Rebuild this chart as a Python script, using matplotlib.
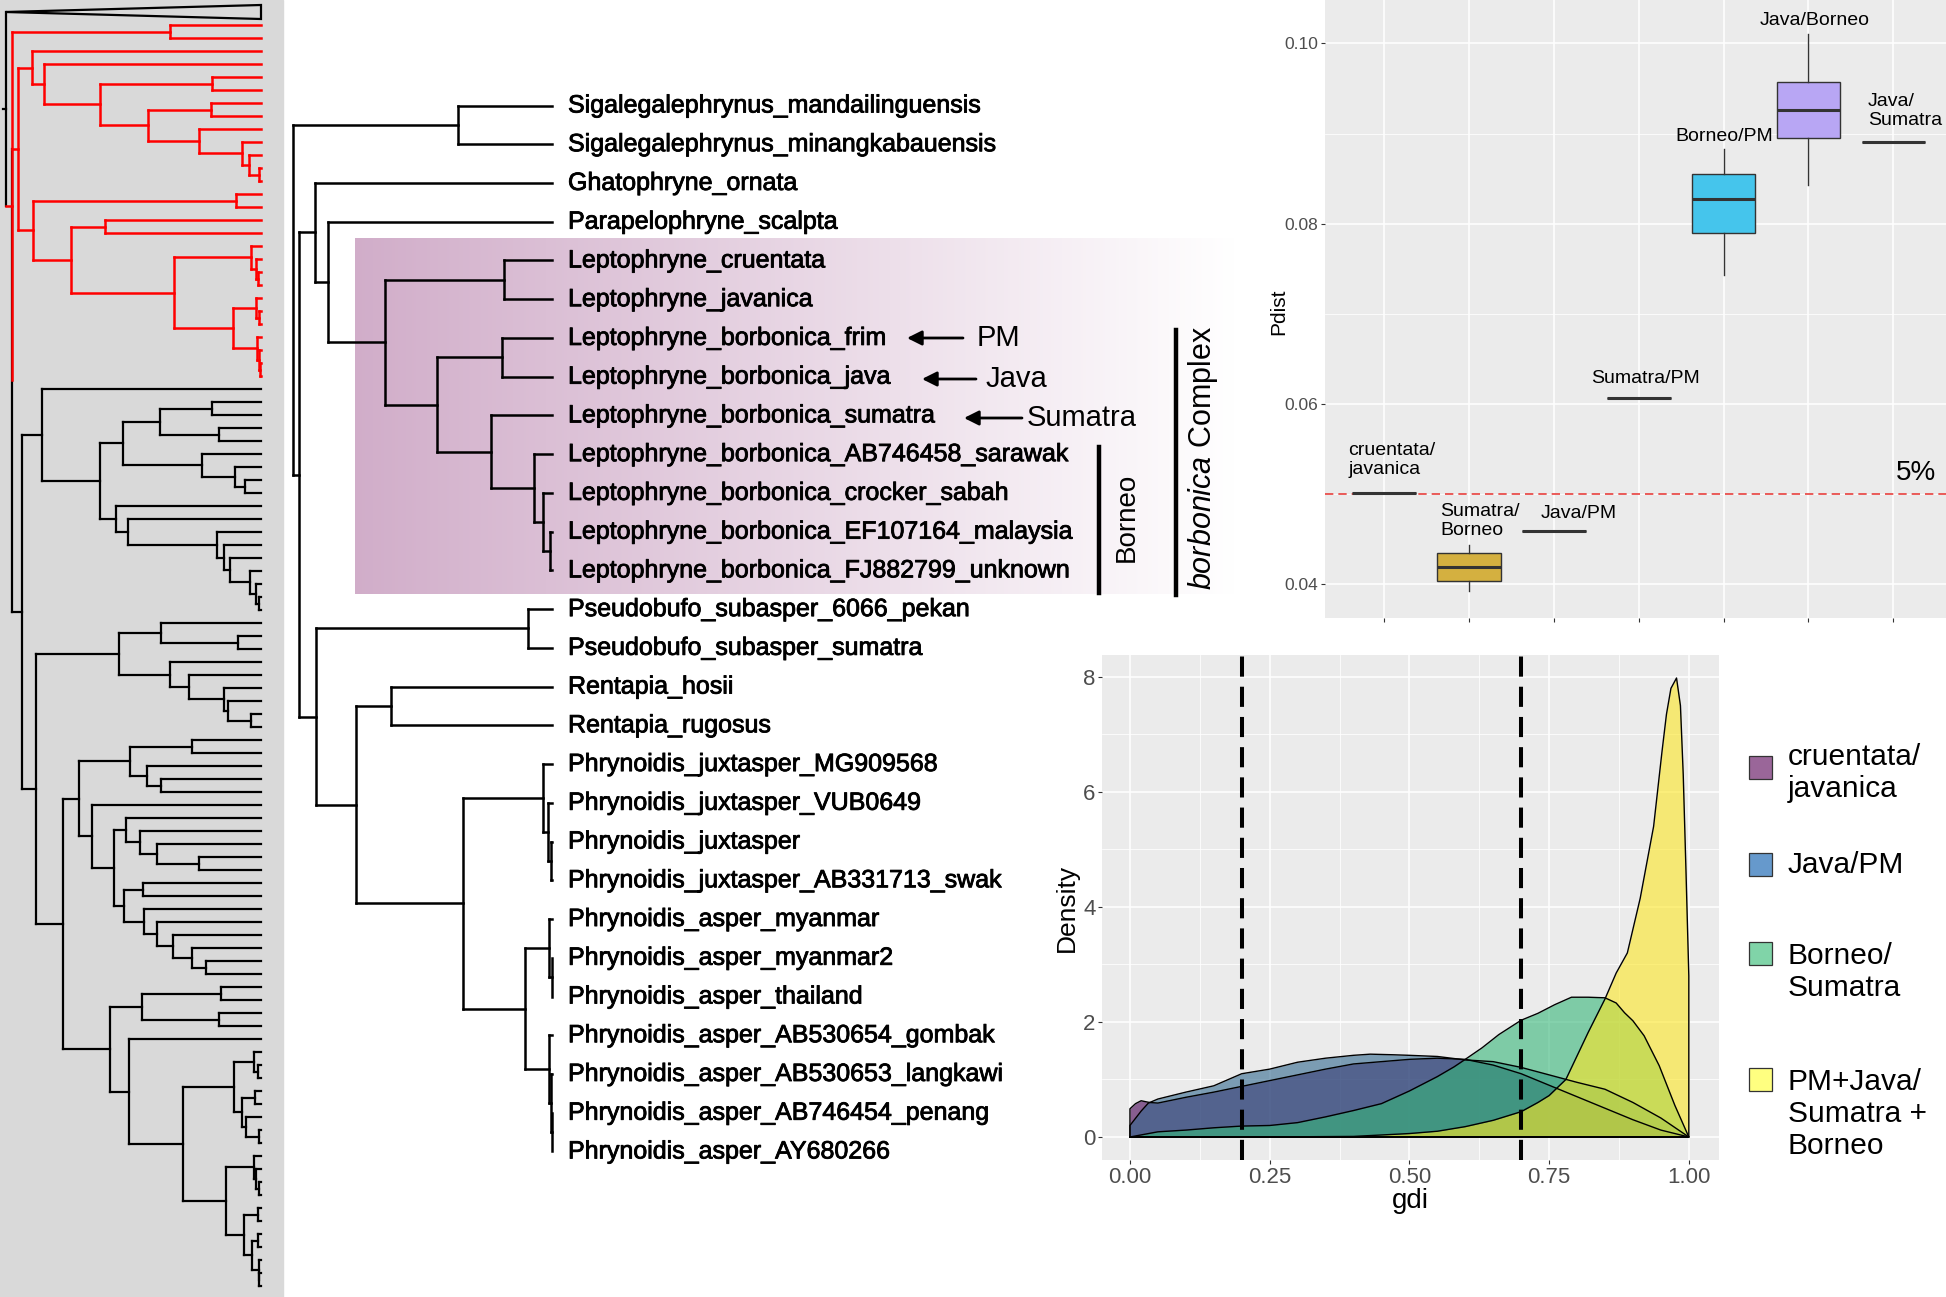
import itertools
import numpy as np
import matplotlib
matplotlib.use("Agg")
import matplotlib.pyplot as plt
import matplotlib.patheffects as pe
from matplotlib.collections import LineCollection
from matplotlib.patches import Rectangle, Polygon

plt.rcParams["font.family"] = ["Liberation Sans", "DejaVu Sans"]
plt.rcParams["mathtext.fontset"] = "custom"
plt.rcParams["mathtext.rm"] = "Liberation Sans"
plt.rcParams["mathtext.it"] = "Liberation Sans:italic"

# ---------------- data ----------------
# left overview tree: "*" = unnamed tip, "T" = collapsed clade,
# number after ")" = node depth (px), suffix r/k = red/black clade colour
LEFT_TREE = """
(T,
 ((*,*)170,
  (
   ((*,(*,((*,*)212,((*,*)211,(*,(*,(*,(*,*)259)249)242)199)148)100)44)32,
    ((*,*)236,((*,*)105,((*,(*,(*,*)258)256)251,((*,(*,*)259)256,(*,(*,(*,*)260)259)257)233)174)71)33
   )18r,
   (
    (*,((((*,*)212,(*,*)219)160,(*,(*,(*,*)245)235)202)123,
        (*,(*,(*,(*,(*,(*,(*,(*,*)259)256)250)230)224)217)128)116)100)42,
    (
     ((*,(*,*)238)161,(*,(*,(*,(*,(*,*)251)228)224)189)170)119,
     (
      (((*,*)192,(*,(*,*)161)147)130,
       (*,((*,(*,(*,(*,*)199)157)140)126,((*,*)143,(*,(*,(*,(*,(*,*)206)192)173)157)144)124)114)92
      )79,
      (((*,*)221,(*,*)219)142,
       (*,
        (((*,(*,*)258)254,((*,*)255,(*,(*,*)259)246)242)234,
         ((*,(*,(*,*)259)256)254,((*,*)258,((*,*)258,(*,(*,*)259)259)252)244)226
        )183
       )129
      )110
     )63
    )36
   )22
  )12k
 )12r
)5.7
"""

MID_TREE = """
((Sigalegalephrynus_mandailinguensis,Sigalegalephrynus_minangkabauensis)458,
 ((Ghatophryne_ornata,
   (Parapelophryne_scalpta,
    ((Leptophryne_cruentata,Leptophryne_javanica)504,
     ((Leptophryne_borbonica_frim,Leptophryne_borbonica_java)502,
      (Leptophryne_borbonica_sumatra,
       (Leptophryne_borbonica_AB746458_sarawak,
        (Leptophryne_borbonica_crocker_sabah,
         (Leptophryne_borbonica_EF107164_malaysia,Leptophryne_borbonica_FJ882799_unknown)550)543)534)491)437)385)328)315,
  ((Pseudobufo_subasper_6066_pekan,Pseudobufo_subasper_sumatra)528,
   ((Rentapia_hosii,Rentapia_rugosus)391,
    ((Phrynoidis_juxtasper_MG909568,
      (Phrynoidis_juxtasper_VUB0649,(Phrynoidis_juxtasper,Phrynoidis_juxtasper_AB331713_swak)551)548)543,
     ((Phrynoidis_asper_myanmar,(Phrynoidis_asper_myanmar2,Phrynoidis_asper_thailand)552)549,
      (Phrynoidis_asper_AB530654_gombak,
       (Phrynoidis_asper_AB530653_langkawi,
        (Phrynoidis_asper_AB746454_penang,Phrynoidis_asper_AY680266)552)551)549)525)463)356)316)299)293
"""

# pairwise p-distance boxplot
box_groups = ["cruentata/javanica", "Sumatra/Borneo", "Java/PM", "Sumatra/PM",
              "Borneo/PM", "Java/Borneo", "Java/Sumatra"]
pdist_med = [0.0501, 0.0419, 0.0459, 0.0607, 0.0827, 0.0926, 0.0891]
pdist_q1 = [0.0501, 0.0403, 0.0459, 0.0607, 0.0790, 0.0895, 0.0891]
pdist_q3 = [0.0501, 0.0435, 0.0459, 0.0607, 0.0855, 0.0957, 0.0891]
pdist_lo = [0.0501, 0.0392, 0.0459, 0.0607, 0.0743, 0.0843, 0.0891]
pdist_hi = [0.0501, 0.0444, 0.0459, 0.0607, 0.0883, 0.1010, 0.0891]
box_colors = ["#9A9A9A", "#D4B040", "#9A9A9A", "#9A9A9A", "#45C5EC", "#B8A6F4", "#9A9A9A"]
box_labels = ["cruentata/\njavanica", "Sumatra/\nBorneo", "Java/PM", "Sumatra/PM",
              "Borneo/PM", "Java/Borneo", "Java/\nSumatra"]
box_label_x = [0.58, 1.66, 2.84, 4.08, 5.01, 6.07, 6.70]
box_label_y = [0.0538, 0.0470, 0.0479, 0.0628, 0.0897, 0.1025, 0.0925]
box_label_ha = ["left", "left", "left", "center", "center", "center", "left"]

# gdi densities
gdi_names = ["cruentata/\njavanica", "Java/PM", "Borneo/\nSumatra", "PM+Java/\nSumatra +\nBorneo"]
gdi_colors = ["#440154", "#31688E", "#35B779", "#FDE725"]
key_colors = ["#9A6699", "#6699CC", "#80D4A8", "#FFFF80"]
cru_x = [0.0, 0.01, 0.02, 0.035, 0.05, 0.1, 0.15, 0.2, 0.25, 0.3, 0.35, 0.4, 0.45,
         0.5, 0.55, 0.6, 0.65, 0.7, 0.75, 0.8, 0.85, 0.9, 0.95, 1.0]
cru_y = [0.49, 0.58, 0.63, 0.60, 0.59, 0.69, 0.78, 0.88, 0.98, 1.08, 1.18, 1.27, 1.31,
         1.35, 1.37, 1.35, 1.25, 1.10, 0.90, 0.70, 0.50, 0.30, 0.12, 0.0]
jpm_x = [0.0, 0.02, 0.033, 0.05, 0.1, 0.15, 0.2, 0.25, 0.3, 0.35, 0.4, 0.43, 0.47,
         0.5, 0.55, 0.6, 0.65, 0.7, 0.75, 0.8, 0.85, 0.9, 0.95, 1.0]
jpm_y = [0.20, 0.45, 0.59, 0.66, 0.78, 0.89, 1.10, 1.18, 1.30, 1.37, 1.42, 1.44, 1.43,
         1.42, 1.40, 1.34, 1.31, 1.21, 1.08, 0.95, 0.83, 0.60, 0.33, 0.0]
bs_x = [0.0, 0.05, 0.1, 0.15, 0.2, 0.25, 0.3, 0.35, 0.4, 0.45, 0.5, 0.55, 0.58,
        0.6, 0.63, 0.66, 0.7, 0.73, 0.76, 0.79, 0.82, 0.85, 0.87, 0.885, 0.9, 0.92,
        0.947, 0.975, 1.0]
bs_y = [0.0, 0.09, 0.12, 0.16, 0.19, 0.20, 0.25, 0.35, 0.46, 0.58, 0.80, 1.05, 1.22,
        1.35, 1.55, 1.78, 2.03, 2.15, 2.30, 2.43, 2.43, 2.42, 2.33, 2.16, 2.02, 1.76,
        1.24, 0.55, 0.0]
all_x = [0.0, 0.25, 0.32, 0.4, 0.5, 0.55, 0.6, 0.65, 0.7, 0.73, 0.75, 0.78, 0.8, 0.82,
         0.85, 0.87, 0.89, 0.913, 0.937, 0.952, 0.96, 0.968, 0.978, 0.985, 0.99, 0.995, 1.0]
all_y = [0.0, 0.0, 0.005, 0.01, 0.06, 0.10, 0.18, 0.29, 0.44, 0.60, 0.72, 1.00, 1.41, 1.82,
         2.40, 2.85, 3.20, 4.15, 5.40, 6.70, 7.35, 7.80, 7.98, 7.50, 6.30, 4.60, 2.80]
gdi_x = [cru_x, jpm_x, bs_x, all_x]
gdi_y = [cru_y, jpm_y, bs_y, all_y]
gdi_cutoffs = [0.2, 0.7]

RED = "#FF0000"


def parse_tree(s):
    s = "".join(s.split())
    pos = 0

    def node():
        nonlocal pos
        kids = []
        if s[pos] == "(":
            pos += 1
            kids.append(node())
            while s[pos] == ",":
                pos += 1
                kids.append(node())
            pos += 1
        j = pos
        while pos < len(s) and s[pos] not in ",()":
            pos += 1
        return {"label": s[j:pos], "kids": kids}

    return node()


def layout(n, tips, tip_x, col="black"):
    lab = n["label"]
    if n["kids"]:
        if lab[-1] == "r":
            col, lab = RED, lab[:-1]
        elif lab[-1] == "k":
            col, lab = "black", lab[:-1]
        n["x"], n["col"] = float(lab), col
        for k in n["kids"]:
            layout(k, tips, tip_x, col)
        n["y"] = (n["kids"][0]["y"] + n["kids"][-1]["y"]) / 2
    else:
        n["x"], n["y"], n["col"] = tip_x, next(tips), col


def draw_tree(ax, root, lw):
    segs, tris, leaves = {}, [], []

    def walk(n):
        ys = [k["y"] for k in n["kids"]]
        segs.setdefault(n["col"], []).append([(n["x"], ys[0]), (n["x"], ys[-1])])
        for k in n["kids"]:
            if k["label"] == "T":
                tris.append((n["x"], k["y"]))
                continue
            segs.setdefault(k["col"], []).append([(n["x"], k["y"]), (k["x"], k["y"])])
            if k["kids"]:
                walk(k)
            else:
                leaves.append(k)

    walk(root)
    for col in sorted(segs, key=lambda c: c != "black"):
        ax.add_collection(LineCollection(segs[col], colors=col, linewidths=lw.get(col, 1.5),
                                         capstyle="projecting", zorder=3))
    return tris, leaves


W, H = 1946, 1297
fig = plt.figure(figsize=(W / 100, H / 100), dpi=100)
ax0 = fig.add_axes([0, 0, 1, 1])
ax0.axis("off")
heavy = [pe.withStroke(linewidth=0.6, foreground="black")]

# ---- left overview tree ----
ax0.add_patch(Rectangle((0, 0), 283, H, color="#D9D9D9", zorder=0))
left = parse_tree(LEFT_TREE)
layout(left, itertools.count(12, 13), 261)
tris, _ = draw_tree(ax0, left, {"black": 1.6, RED: 1.8})
for tx, ty in tris:
    ax0.add_patch(Polygon([(tx, ty), (261, ty - 7), (261, ty + 7)], closed=True,
                          facecolor="#D9D9D9", edgecolor="black", lw=1.6, zorder=3))
ax0.plot([left["x"] - 3, left["x"]], [left["y"]] * 2, color="black", lw=1.6, zorder=3)

# ---- shaded Leptophryne clade ----
c0 = np.array([0.82, 0.68, 0.79])
t = np.linspace(0, 1, 400)[:, None]
grad = c0 + (1 - c0) * t
ax0.imshow(grad[None, :, :], extent=(355, 1235, 594, 238), aspect="auto", zorder=1)

# ---- middle tree ----
mid = parse_tree(MID_TREE)
layout(mid, itertools.count(105.5, 38.74), 552)
_, mid_leaves = draw_tree(ax0, mid, {"black": 1.8})
for lf in mid_leaves:
    ax0.text(568, lf["y"], lf["label"], fontsize=18, va="center", ha="left", zorder=4,
             path_effects=heavy)

# arrows and clade bars
for (xh, xt, y, lab, xl) in [(907, 963, 338, "PM", 977),
                             (922, 976, 379, "Java", 986),
                             (964, 1022, 418, "Sumatra", 1027)]:
    ax0.annotate("", xy=(xh, y), xytext=(xt, y),
                 arrowprops=dict(arrowstyle="-|>", color="black", lw=2.0,
                                 mutation_scale=22, shrinkA=0, shrinkB=0), zorder=4)
    ax0.text(xl, y, lab, fontsize=21, va="center", ha="left", zorder=4)
ax0.plot([1099, 1099], [447, 593], color="black", lw=3.2, zorder=4)
ax0.text(1127, 517, "Borneo", rotation=90, fontsize=20, ha="center", va="center", zorder=4)
ax0.plot([1176, 1176], [330, 595], color="black", lw=3.2, zorder=4)
ax0.text(1203, 458, r"$\it{borbonica}$ Complex", rotation=90, fontsize=22,
         ha="center", va="center", zorder=4)

# axis titles placed in figure pixels
ax0.text(1279, 312, "Pdist", rotation=90, fontsize=15, ha="center", va="center")
ax0.text(1067, 908, "Density", rotation=90, fontsize=19, ha="center", va="center")
ax0.text(1410, 1201, "gdi", fontsize=20, ha="center", va="center")

# legend for density plot
key_y = [767, 864, 953, 1079]
text_y = [773, 865, 972, 1114]
for c, ky, ty, name in zip(key_colors, key_y, text_y, gdi_names):
    ax0.add_patch(Rectangle((1749, ky - 11.5), 23, 23, facecolor=c, edgecolor="#333333", lw=0.9))
    ax0.text(1788, ty, name, fontsize=21.5, va="center", ha="left", linespacing=1.2)

ax0.set_xlim(0, W)
ax0.set_ylim(H, 0)

# ---------------- boxplot ----------------
axb = fig.add_axes([1325 / W, (H - 618) / H, (W - 1325) / W, 618 / H])
axb.set_facecolor("#EBEBEB")
pos = np.arange(1, len(box_groups) + 1)
stats = [dict(med=m, q1=a, q3=b, whislo=lo, whishi=hi, label=g)
         for g, m, a, b, lo, hi in zip(box_groups, pdist_med, pdist_q1, pdist_q3, pdist_lo, pdist_hi)]
bp = axb.bxp(stats, positions=pos, widths=0.75, patch_artist=True, showfliers=False,
             showcaps=False,
             boxprops=dict(edgecolor="#333333", lw=1.0),
             medianprops=dict(color="#333333", lw=2.2, solid_capstyle="butt"),
             whiskerprops=dict(color="#333333", lw=1.0))
for patch, c in zip(bp["boxes"], box_colors):
    patch.set_facecolor(c)
for p, y, s, ha in zip(box_label_x, box_label_y, box_labels, box_label_ha):
    axb.text(p, y, s, ha=ha, va="center", fontsize=14, linespacing=1.15)
axb.axhline(0.05, color="#E8413E", lw=1.2, ls=(0, (5, 3)))
axb.text(7.5, 0.0523, "5%", ha="right", va="center", fontsize=20)
axb.set_xlim(0.305, 7.62)
axb.set_ylim(0.03625, 0.10482)
axb.set_xticks(pos)
axb.set_xticklabels([""] * len(pos))
axb.set_yticks([0.04, 0.06, 0.08, 0.10])
axb.set_yticklabels(["0.04", "0.06", "0.08", "0.10"])
axb.set_yticks([0.05, 0.07, 0.09], minor=True)
axb.grid(which="major", color="white", lw=1.1)
axb.grid(which="minor", axis="y", color="white", lw=0.55)
axb.set_axisbelow(True)
axb.tick_params(which="major", length=2.75, color="#333333", labelcolor="#4D4D4D",
                labelsize=12.5, pad=2)
axb.tick_params(which="minor", length=0)
for sp in axb.spines.values():
    sp.set_visible(False)

# ---------------- density plot ----------------
axd = fig.add_axes([1102 / W, (H - 1160) / H, 617 / W, 505 / H])
axd.set_facecolor("#EBEBEB")
for xs, ys, c in zip(gdi_x, gdi_y, gdi_colors):
    axd.fill_between(xs, 0, ys, color=c, alpha=0.6, lw=0)
    axd.plot([xs[0]] + xs + [xs[-1], xs[0]], [0] + ys + [0, 0], color="black", lw=1.0)
for v in gdi_cutoffs:
    axd.axvline(v, color="black", lw=2.9, ls=(0, (5, 2.5)))
axd.set_xlim(-0.05, 1.054)
axd.set_ylim(-0.4, 8.38)
axd.set_xticks([0, 0.25, 0.5, 0.75, 1.0])
axd.set_xticklabels(["0.00", "0.25", "0.50", "0.75", "1.00"])
axd.set_yticks([0, 2, 4, 6, 8])
axd.set_xticks([0.125, 0.375, 0.625, 0.875], minor=True)
axd.set_yticks([1, 3, 5, 7], minor=True)
axd.grid(which="major", color="white", lw=1.1)
axd.grid(which="minor", color="white", lw=0.55)
axd.set_axisbelow(True)
axd.tick_params(which="major", length=2.75, color="#333333", labelcolor="#4D4D4D",
                labelsize=16, pad=2)
axd.tick_params(which="minor", length=0)
for sp in axd.spines.values():
    sp.set_visible(False)

fig.savefig("out.png", dpi=100)
